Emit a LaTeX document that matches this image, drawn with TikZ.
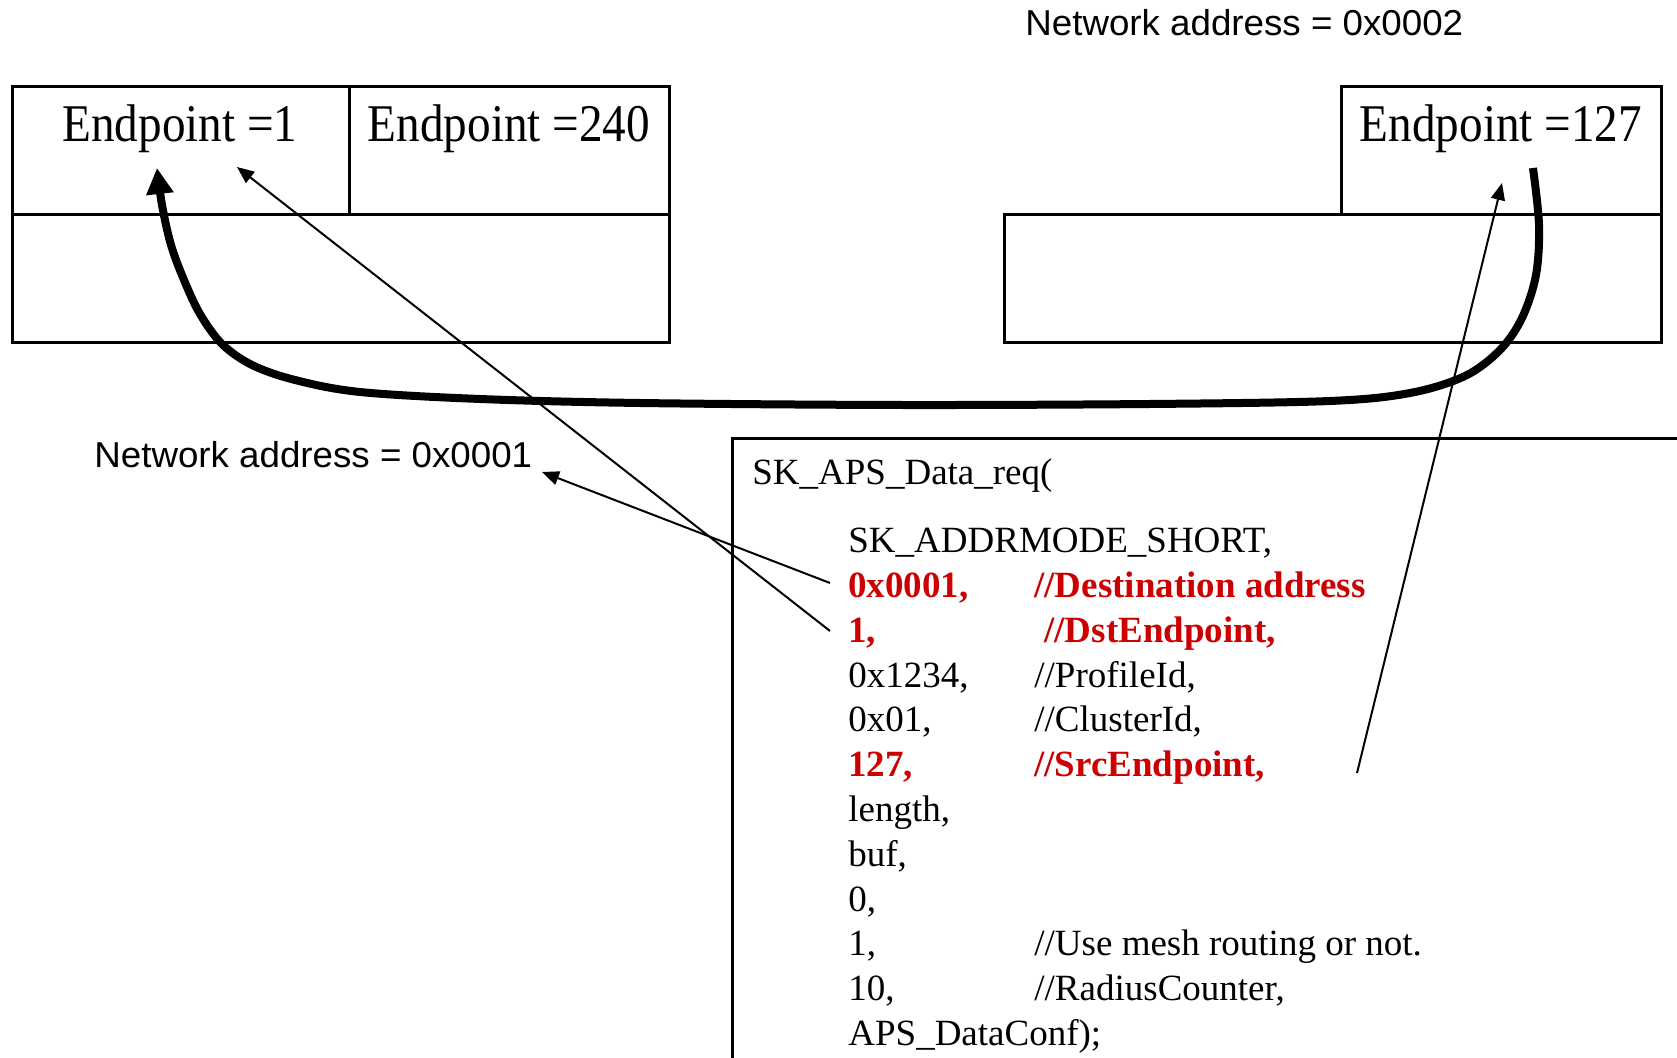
\documentclass[tikz,border=0pt]{standalone}
\usepackage{fontspec}
\setmainfont{Liberation Serif}
\newfontfamily\epfont[FakeStretch=0.89]{Liberation Serif}
\newfontfamily\netfont[FakeStretch=1.02]{Liberation Sans}
\usetikzlibrary{arrows.meta}
\definecolor{codered}{RGB}{204,0,0}

\begin{document}
\begin{tikzpicture}[x=0.5pt,y=-0.5pt,
  frame/.style={line width=1.5pt},
  eplabel/.style={inner sep=0pt, anchor=base, font=\epfont\fontsize{26.5pt}{30pt}\selectfont},
  netlabel/.style={inner sep=0pt, anchor=base west, font=\netfont\fontsize{18pt}{21pt}\selectfont},
  code/.style={inner sep=0pt, anchor=base west, font=\fontsize{18.5pt}{22pt}\selectfont},
  hot/.style={code, text=codered, font=\bfseries\fontsize{18.5pt}{22pt}\selectfont},
  pointer/.style={line width=1pt, -{Triangle[length=8.5pt,width=7pt]}},
  route/.style={line width=4pt, line join=round, -{Triangle[length=13pt,width=13pt]}},
]
\fill[white] (0,0) rectangle (1677,1058);
\useasboundingbox (0,0) rectangle (1677,1058);

% node with network address 0x0001: two endpoints over a common base
\draw[frame] (12,87) rectangle (669,343);
\draw[frame] (12,215) -- (669,215);
\draw[frame] (349,87) -- (349,215);

% node with network address 0x0002: one endpoint over its base
\draw[frame] (1341,87) rectangle (1661,215);
\draw[frame] (1004,215) rectangle (1661,343);

% code listing frame (runs off the right and bottom edges)
\draw[frame] (1677,438.5) -- (732.6,438.5) -- (732.6,1058);

% labels
\node[eplabel] (ep1) at (180,142) {Endpoint =1};
\node[eplabel] (ep240) at (509,142) {Endpoint =240};
\node[eplabel] (ep127) at (1501,142) {Endpoint =127};
\node[netlabel] (net2) at (1025,36) {Network address = 0x0002};
\node[netlabel] (net1) at (94,468) {Network address = 0x0001};

% the call
\node[code] (fn) at (752,484.3) {SK\_APS\_Data\_req(};
\node[code] (a0) at (848,552.7) {SK\_ADDRMODE\_SHORT,};
\node[hot] (a1) at (848,597.5) {0x0001,};
\node[hot] (c1) at (1034,597.5) {//Destination address};
\node[hot] (a2) at (848,642.3) {1,};
\node[hot] (c2) at (1044,642.3) {//DstEndpoint,};
\node[code] (a3) at (848,687.1) {0x1234,};
\node[code] (c3) at (1034,687.1) {//ProfileId,};
\node[code] (a4) at (848,731.9) {0x01,};
\node[code] (c4) at (1034,731.9) {//ClusterId,};
\node[hot] (a5) at (848,776.7) {127,};
\node[hot] (c5) at (1034,776.7) {//SrcEndpoint,};
\node[code] (a6) at (848,821.5) {length,};
\node[code] (a7) at (848,866.3) {buf,};
\node[code] (a8) at (848,911.1) {0,};
\node[code] (a9) at (848,955.9) {1,};
\node[code] (c9) at (1034,955.9) {//Use mesh routing or not.};
\node[code] (a10) at (848,1000.7) {10,};
\node[code] (c10) at (1034,1000.7) {//RadiusCounter,};
\node[code] (a11) at (848,1045.5) {APS\_DataConf);};

% connector ends
\coordinate (srcAddr) at (830,583);
\coordinate (srcDst) at (830,631);
\coordinate (srcSrc) at (1357,773);
\coordinate (tipNet1) at (542,472);
\coordinate (tipEp1) at (237,167);
\coordinate (tipEp127) at (1502,183);
\coordinate (routeStart) at (1533,168);
\coordinate (routeEnd) at (157,168);

% parameter pointers
\draw[pointer] (srcAddr) -- (tipNet1);
\draw[pointer] (srcDst) -- (tipEp1);
\draw[pointer] (srcSrc) -- (tipEp127);

% data path from endpoint 127 to endpoint 1
\draw[route] plot[smooth, tension=0.55] coordinates {(routeStart) (1539,225) (1536,275) (1522,318) (1500,350) (1465,376) (1410,393) (1330,401) (1150,404) (900,405) (640,403) (480,399) (360,392) (295,380) (252,365) (222,344) (200,314) (184,280) (171,245) (162,205) (routeEnd)};
\end{tikzpicture}
\end{document}
